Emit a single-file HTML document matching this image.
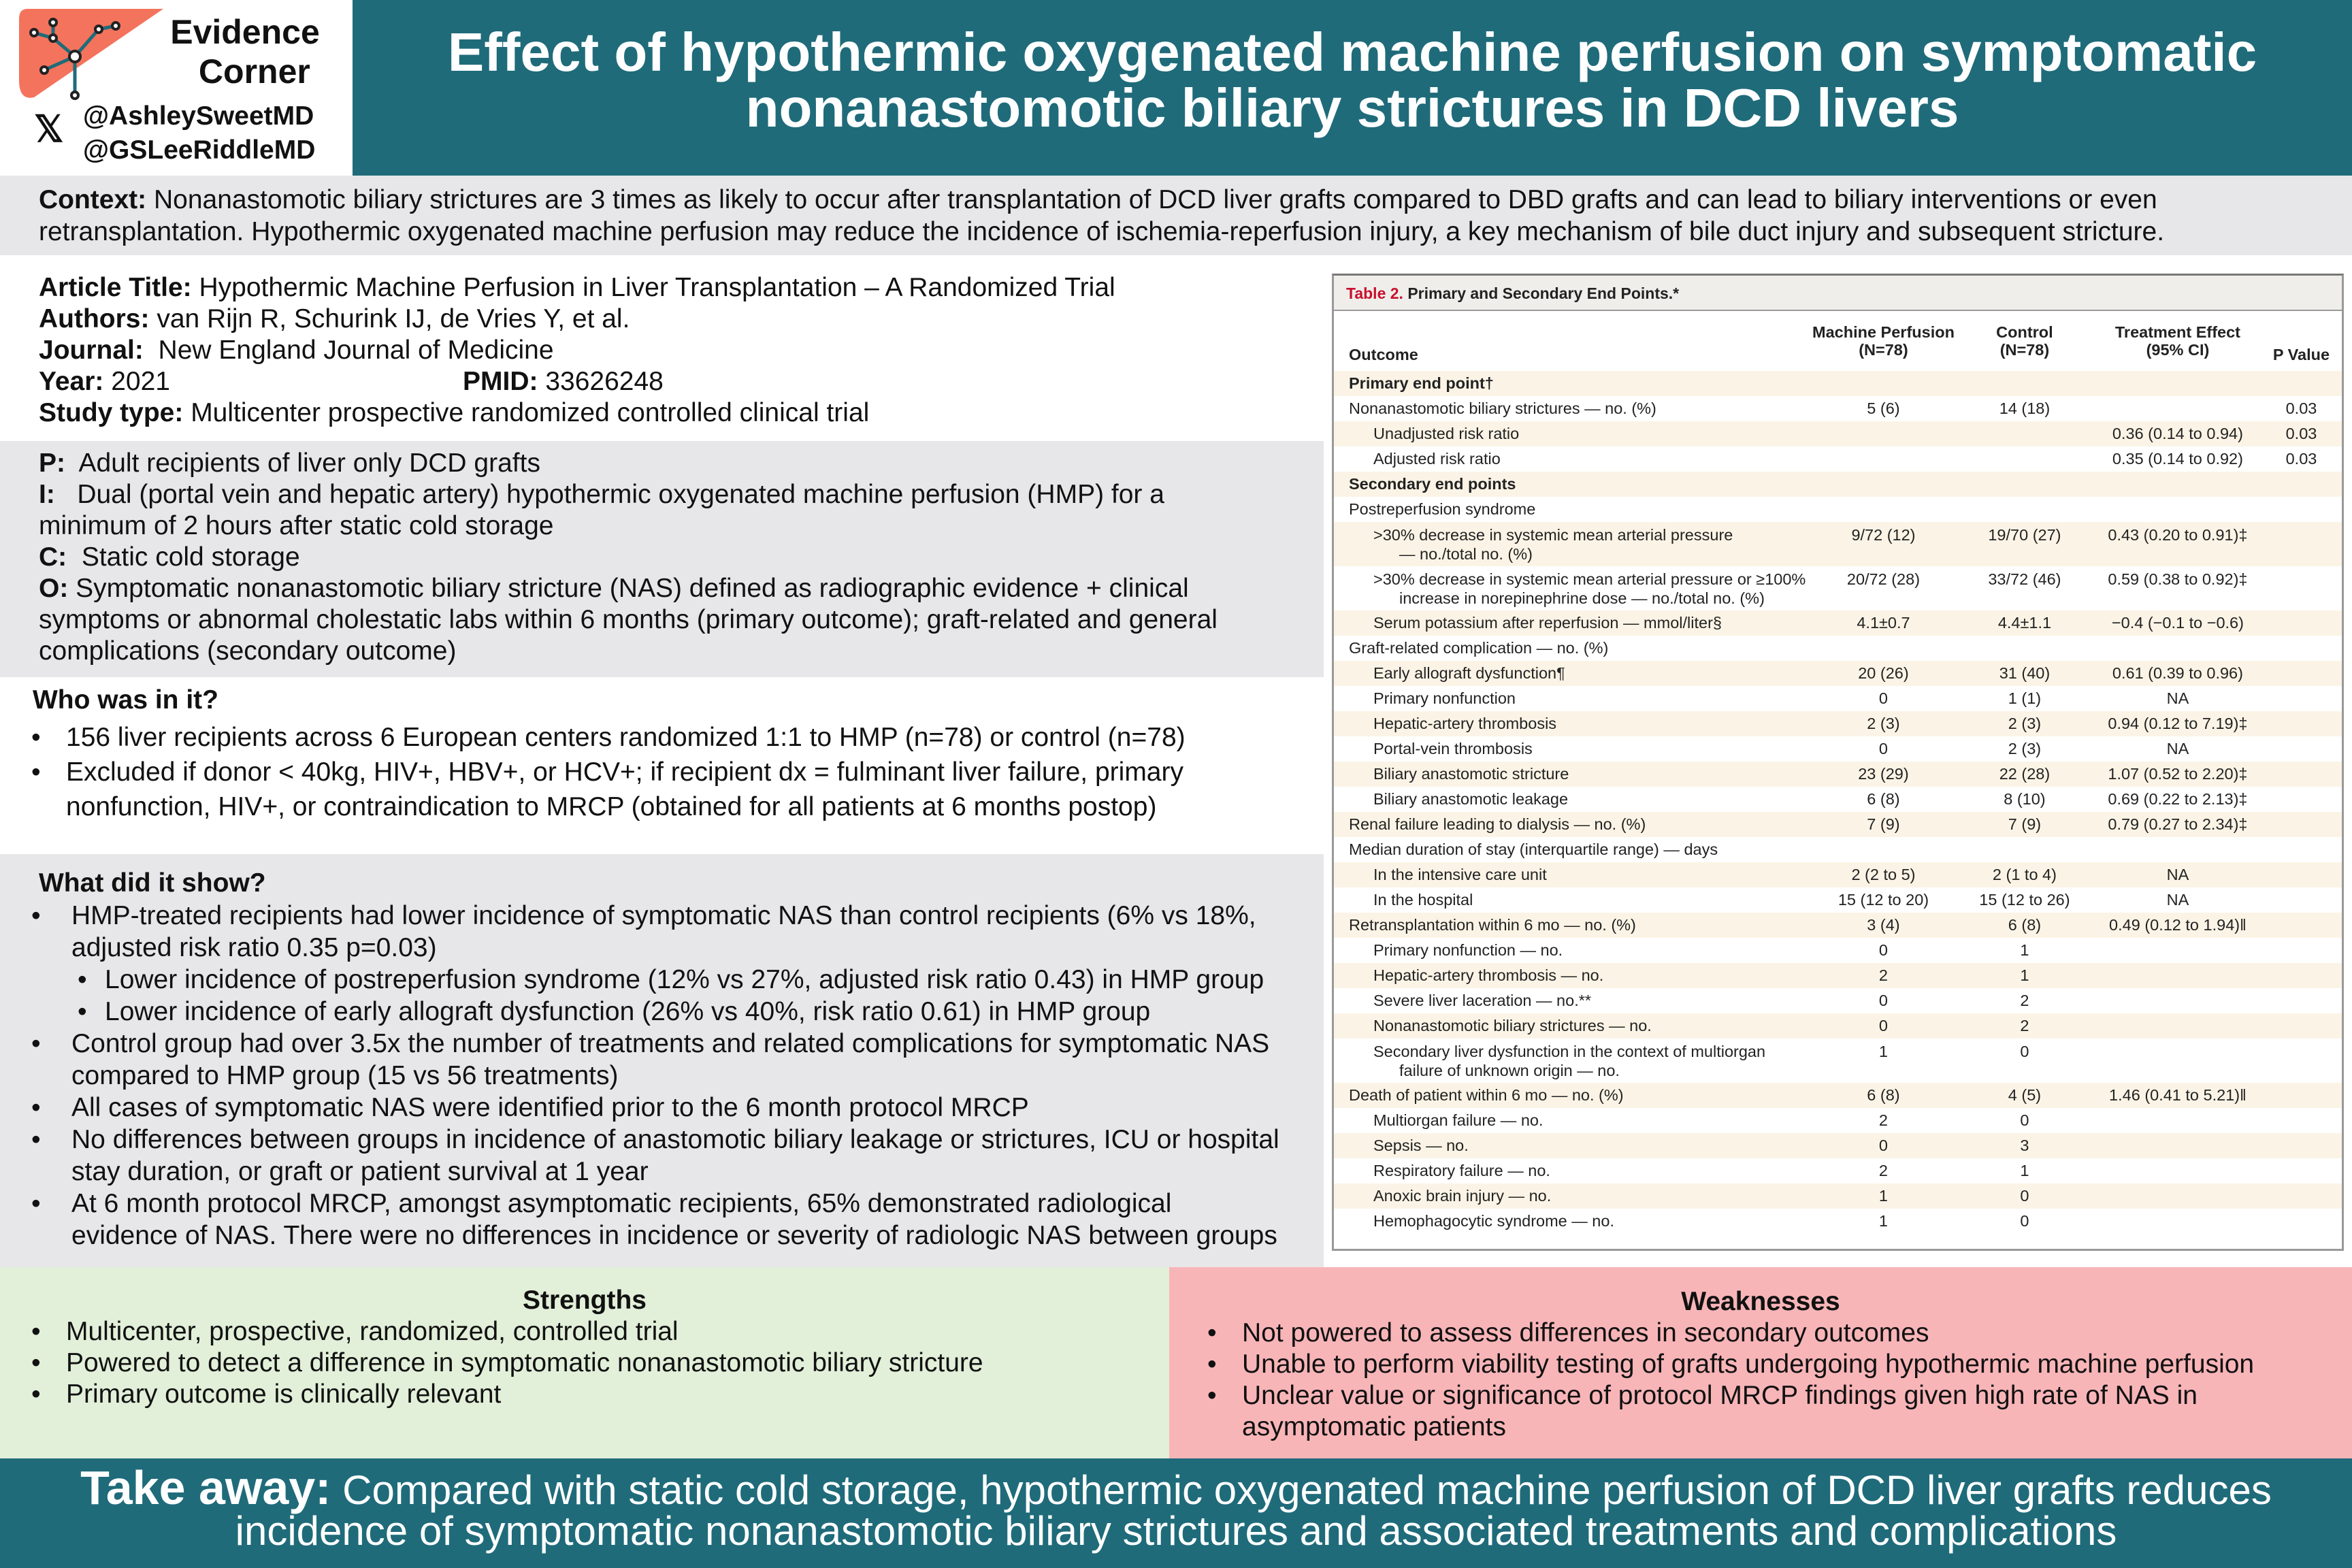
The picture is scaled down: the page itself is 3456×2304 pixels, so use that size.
<!DOCTYPE html>
<html><head><meta charset="utf-8">
<style>
*{margin:0;padding:0;box-sizing:border-box}
body{width:3456px;height:2304px;position:relative;overflow:hidden;background:#fff;font-family:"Liberation Sans",sans-serif;color:#111}
.abs{position:absolute}
.band{position:absolute;left:0}
.t{position:absolute;white-space:nowrap;font-size:39px;line-height:46px}
b{font-weight:bold}
table{border-collapse:collapse;font-family:"Liberation Sans",sans-serif;font-size:23.5px;color:#222;width:100%}
td{height:37px;padding:0;vertical-align:middle;white-space:nowrap}
tr.s td{background:#fbf4e6}
td.o{padding-left:22px}
td.i{padding-left:58px}
td.c{text-align:center}
td.d{height:65px;line-height:28px}
</style></head><body>

<div class="abs" style="left:518px;top:0;width:2938px;height:258px;background:#1f6b7a"></div>
<div class="abs" style="left:518px;top:36px;width:2938px;text-align:center;color:#fff;font-weight:bold;font-size:80px;line-height:82px;white-space:nowrap">Effect of hypothermic oxygenated machine perfusion on symptomatic<br>nonanastomotic biliary strictures in DCD livers</div>
<svg class="abs" style="left:20px;top:8px" width="230" height="140" viewBox="0 0 230 140">
<path d="M20 5 H220 L30 135 Q8 140 8 110 V20 Q8 5 20 5Z" fill="#f4735c"/>
<g stroke="#1f6b7a" stroke-width="5" fill="#fff">
<line x1="90" y1="75" x2="90" y2="132"/><line x1="90" y1="75" x2="58" y2="48"/><line x1="90" y1="75" x2="125" y2="35"/><line x1="125" y1="35" x2="150" y2="30"/><line x1="58" y1="48" x2="58" y2="25"/><line x1="58" y1="48" x2="30" y2="40"/><line x1="90" y1="75" x2="45" y2="95"/>
</g>
<g stroke="#222" stroke-width="4" fill="#fff">
<circle cx="90" cy="75" r="8"/><circle cx="90" cy="132" r="5"/><circle cx="58" cy="25" r="5"/><circle cx="30" cy="40" r="5"/><circle cx="58" cy="48" r="5"/><circle cx="125" cy="35" r="5"/><circle cx="150" cy="30" r="5"/><circle cx="45" cy="95" r="5"/></g>
</svg>
<div class="abs" style="left:235px;top:18px;width:250px;text-align:center;font-weight:bold;font-size:50px;line-height:58px">Evidence<br>&nbsp;&nbsp;Corner</div>
<div class="abs" style="left:50px;top:158px;font-size:54px;font-weight:bold">𝕏</div>
<div class="abs" style="left:122px;top:146px;font-weight:bold;font-size:39px;line-height:50px">@AshleySweetMD<br>@GSLeeRiddleMD</div>

<div class="band" style="top:258px;width:3456px;height:117px;background:#e7e6e8"></div>
<div class="t" style="left:57px;top:270px;line-height:47px">
<b>Context:</b> Nonanastomotic biliary strictures are 3 times as likely to occur after transplantation of DCD liver grafts compared to DBD grafts and can lead to biliary interventions or even<br>retransplantation. Hypothermic oxygenated machine perfusion may reduce the incidence of ischemia-reperfusion injury, a key mechanism of bile duct injury and subsequent stricture.</div>

<div class="t" style="left:57px;top:400px">
<b>Article Title:</b> Hypothermic Machine Perfusion in Liver Transplantation – A Randomized Trial<br>
<b>Authors:</b> van Rijn R, Schurink IJ, de Vries Y, et al.<br>
<b>Journal:</b>&nbsp; New England Journal of Medicine<br>
<b>Year:</b> 2021<span style="position:absolute;left:623px"><b>PMID:</b> 33626248</span><br>
<b>Study type:</b> Multicenter prospective randomized controlled clinical trial</div>

<div class="band" style="top:648px;width:1945px;height:347px;background:#e7e6e8"></div>
<div class="t" style="left:57px;top:658px">
<b>P:</b>&nbsp; Adult recipients of liver only DCD grafts<br>
<b>I:</b>&nbsp;&nbsp; Dual (portal vein and hepatic artery) hypothermic oxygenated machine perfusion (HMP) for a<br>
minimum of 2 hours after static cold storage<br>
<b>C:</b>&nbsp; Static cold storage<br>
<b>O:</b> Symptomatic nonanastomotic biliary stricture (NAS) defined as radiographic evidence + clinical<br>
symptoms or abnormal cholestatic labs within 6 months (primary outcome); graft-related and general<br>
complications (secondary outcome)</div>

<div class="t" style="left:48px;top:1006px;font-weight:bold">Who was in it?</div>
<div class="t" style="left:46px;top:1058px;line-height:51px">•<br>•</div>
<div class="t" style="left:97px;top:1058px;line-height:51px">156 liver recipients across 6 European centers randomized 1:1 to HMP (n=78) or control (n=78)<br>Excluded if donor &lt; 40kg, HIV+, HBV+, or HCV+; if recipient dx = fulminant liver failure, primary<br>nonfunction, HIV+, or contraindication to MRCP (obtained for all patients at 6 months postop)</div>

<div class="band" style="top:1255px;width:1945px;height:607px;background:#e7e6e8"></div>
<div class="t" style="left:57px;top:1275px;font-weight:bold">What did it show?</div>
<div class="t" style="left:46px;top:1322px;line-height:47px">•<br><br><span style="margin-left:68px">•</span><br><span style="margin-left:68px">•</span><br>•<br><br>•<br>•<br><br>•</div>
<div class="t" style="left:105px;top:1322px;line-height:47px">HMP-treated recipients had lower incidence of symptomatic NAS than control recipients (6% vs 18%,<br>adjusted risk ratio 0.35 p=0.03)<br>
<span style="margin-left:49px">Lower incidence of postreperfusion syndrome (12% vs 27%, adjusted risk ratio 0.43) in HMP group</span><br>
<span style="margin-left:49px">Lower incidence of early allograft dysfunction (26% vs 40%, risk ratio 0.61) in HMP group</span><br>
Control group had over 3.5x the number of treatments and related complications for symptomatic NAS<br>compared to HMP group (15 vs 56 treatments)<br>
All cases of symptomatic NAS were identified prior to the 6 month protocol MRCP<br>
No differences between groups in incidence of anastomotic biliary leakage or strictures, ICU or hospital<br>stay duration, or graft or patient survival at 1 year<br>
At 6 month protocol MRCP, amongst asymptomatic recipients, 65% demonstrated radiological<br>evidence of NAS. There were no differences in incidence or severity of radiologic NAS between groups</div>

<div class="abs" style="left:1957px;top:402px;width:1487px;height:1436px;border:3px solid #999;border-top-color:#777;background:#fff">
<div style="height:52px;background:#f0eeeb;border-bottom:2px solid #999;font-size:23px;line-height:52px;padding-left:18px;font-weight:bold;color:#222"><span style="color:#c8102e">Table 2.</span> Primary and Secondary End Points.*</div>
<table>
<colgroup><col style="width:703px"><col style="width:182px"><col style="width:206px"><col style="width:244px"><col></colgroup>
<tr><td class="o" style="height:88px;vertical-align:bottom;padding-bottom:10px;font-weight:bold">Outcome</td><td class="c" style="height:88px;font-weight:bold;line-height:26px">Machine Perfusion<br>(N=78)</td><td class="c" style="font-weight:bold;line-height:26px">Control<br>(N=78)</td><td class="c" style="font-weight:bold;line-height:26px">Treatment Effect<br>(95% CI)</td><td class="c" style="vertical-align:bottom;padding-bottom:10px;font-weight:bold">P Value</td></tr>
<tr class="s"><td class="o"><b>Primary end point†</b></td><td></td><td></td><td></td><td></td></tr>
<tr><td class="o">Nonanastomotic biliary strictures — no. (%)</td><td class="c">5 (6)</td><td class="c">14 (18)</td><td></td><td class="c">0.03</td></tr>
<tr class="s"><td class="i">Unadjusted risk ratio</td><td></td><td></td><td class="c">0.36 (0.14 to 0.94)</td><td class="c">0.03</td></tr>
<tr><td class="i">Adjusted risk ratio</td><td></td><td></td><td class="c">0.35 (0.14 to 0.92)</td><td class="c">0.03</td></tr>
<tr class="s"><td class="o"><b>Secondary end points</b></td><td></td><td></td><td></td><td></td></tr>
<tr><td class="o">Postreperfusion syndrome</td><td></td><td></td><td></td><td></td></tr>
<tr class="s"><td class="i d">&gt;30% decrease in systemic mean arterial pressure<br><span style="padding-left:38px">— no./total no. (%)</span></td><td class="c" style="vertical-align:top;padding-top:6px">9/72 (12)</td><td class="c" style="vertical-align:top;padding-top:6px">19/70 (27)</td><td class="c" style="vertical-align:top;padding-top:6px">0.43 (0.20 to 0.91)‡</td><td></td></tr>
<tr><td class="i d">&gt;30% decrease in systemic mean arterial pressure or ≥100%<br><span style="padding-left:38px">increase in norepinephrine dose — no./total no. (%)</span></td><td class="c" style="vertical-align:top;padding-top:6px">20/72 (28)</td><td class="c" style="vertical-align:top;padding-top:6px">33/72 (46)</td><td class="c" style="vertical-align:top;padding-top:6px">0.59 (0.38 to 0.92)‡</td><td></td></tr>
<tr class="s"><td class="i">Serum potassium after reperfusion — mmol/liter§</td><td class="c">4.1±0.7</td><td class="c">4.4±1.1</td><td class="c">−0.4 (−0.1 to −0.6)</td><td></td></tr>
<tr><td class="o">Graft-related complication — no. (%)</td><td></td><td></td><td></td><td></td></tr>
<tr class="s"><td class="i">Early allograft dysfunction¶</td><td class="c">20 (26)</td><td class="c">31 (40)</td><td class="c">0.61 (0.39 to 0.96)</td><td></td></tr>
<tr><td class="i">Primary nonfunction</td><td class="c">0</td><td class="c">1 (1)</td><td class="c">NA</td><td></td></tr>
<tr class="s"><td class="i">Hepatic-artery thrombosis</td><td class="c">2 (3)</td><td class="c">2 (3)</td><td class="c">0.94 (0.12 to 7.19)‡</td><td></td></tr>
<tr><td class="i">Portal-vein thrombosis</td><td class="c">0</td><td class="c">2 (3)</td><td class="c">NA</td><td></td></tr>
<tr class="s"><td class="i">Biliary anastomotic stricture</td><td class="c">23 (29)</td><td class="c">22 (28)</td><td class="c">1.07 (0.52 to 2.20)‡</td><td></td></tr>
<tr><td class="i">Biliary anastomotic leakage</td><td class="c">6 (8)</td><td class="c">8 (10)</td><td class="c">0.69 (0.22 to 2.13)‡</td><td></td></tr>
<tr class="s"><td class="o">Renal failure leading to dialysis — no. (%)</td><td class="c">7 (9)</td><td class="c">7 (9)</td><td class="c">0.79 (0.27 to 2.34)‡</td><td></td></tr>
<tr><td class="o">Median duration of stay (interquartile range) — days</td><td></td><td></td><td></td><td></td></tr>
<tr class="s"><td class="i">In the intensive care unit</td><td class="c">2 (2 to 5)</td><td class="c">2 (1 to 4)</td><td class="c">NA</td><td></td></tr>
<tr><td class="i">In the hospital</td><td class="c">15 (12 to 20)</td><td class="c">15 (12 to 26)</td><td class="c">NA</td><td></td></tr>
<tr class="s"><td class="o">Retransplantation within 6 mo — no. (%)</td><td class="c">3 (4)</td><td class="c">6 (8)</td><td class="c">0.49 (0.12 to 1.94)‖</td><td></td></tr>
<tr><td class="i">Primary nonfunction — no.</td><td class="c">0</td><td class="c">1</td><td></td><td></td></tr>
<tr class="s"><td class="i">Hepatic-artery thrombosis — no.</td><td class="c">2</td><td class="c">1</td><td></td><td></td></tr>
<tr><td class="i">Severe liver laceration — no.**</td><td class="c">0</td><td class="c">2</td><td></td><td></td></tr>
<tr class="s"><td class="i">Nonanastomotic biliary strictures — no.</td><td class="c">0</td><td class="c">2</td><td></td><td></td></tr>
<tr><td class="i d">Secondary liver dysfunction in the context of multiorgan<br><span style="padding-left:38px">failure of unknown origin — no.</span></td><td class="c" style="vertical-align:top;padding-top:6px">1</td><td class="c" style="vertical-align:top;padding-top:6px">0</td><td></td><td></td></tr>
<tr class="s"><td class="o">Death of patient within 6 mo — no. (%)</td><td class="c">6 (8)</td><td class="c">4 (5)</td><td class="c">1.46 (0.41 to 5.21)‖</td><td></td></tr>
<tr><td class="i">Multiorgan failure — no.</td><td class="c">2</td><td class="c">0</td><td></td><td></td></tr>
<tr class="s"><td class="i">Sepsis — no.</td><td class="c">0</td><td class="c">3</td><td></td><td></td></tr>
<tr><td class="i">Respiratory failure — no.</td><td class="c">2</td><td class="c">1</td><td></td><td></td></tr>
<tr class="s"><td class="i">Anoxic brain injury — no.</td><td class="c">1</td><td class="c">0</td><td></td><td></td></tr>
<tr><td class="i">Hemophagocytic syndrome — no.</td><td class="c">1</td><td class="c">0</td><td></td><td></td></tr>
</table></div>

<div class="band" style="top:1862px;width:1718px;height:281px;background:#e2efd9"></div>
<div class="abs" style="left:1718px;top:1862px;width:1738px;height:281px;background:#f8b5b8"></div>
<div class="t" style="left:0;width:1718px;text-align:center;top:1888px;font-weight:bold">Strengths</div>
<div class="t" style="left:46px;top:1934px">•<br>•<br>•</div>
<div class="t" style="left:97px;top:1934px">Multicenter, prospective, randomized, controlled trial<br>Powered to detect a difference in symptomatic nonanastomotic biliary stricture<br>Primary outcome is clinically relevant</div>
<div class="t" style="left:1718px;width:1738px;text-align:center;top:1890px;font-weight:bold">Weaknesses</div>
<div class="t" style="left:1774px;top:1936px">•<br>•<br>•</div>
<div class="t" style="left:1825px;top:1936px">Not powered to assess differences in secondary outcomes<br>Unable to perform viability testing of grafts undergoing hypothermic machine perfusion<br>Unclear value or significance of protocol MRCP findings given high rate of NAS in<br>asymptomatic patients</div>

<div class="band" style="top:2143px;width:3456px;height:161px;background:#1f6b7a"></div>
<div class="abs" style="left:0;top:2156px;width:3456px;text-align:center;color:#fff;font-size:60px;line-height:60px;white-space:nowrap"><b style="font-size:70px">Take away:</b> Compared with static cold storage, hypothermic oxygenated machine perfusion of DCD liver grafts reduces<br>incidence of symptomatic nonanastomotic biliary strictures and associated treatments and complications</div>
</body></html>
